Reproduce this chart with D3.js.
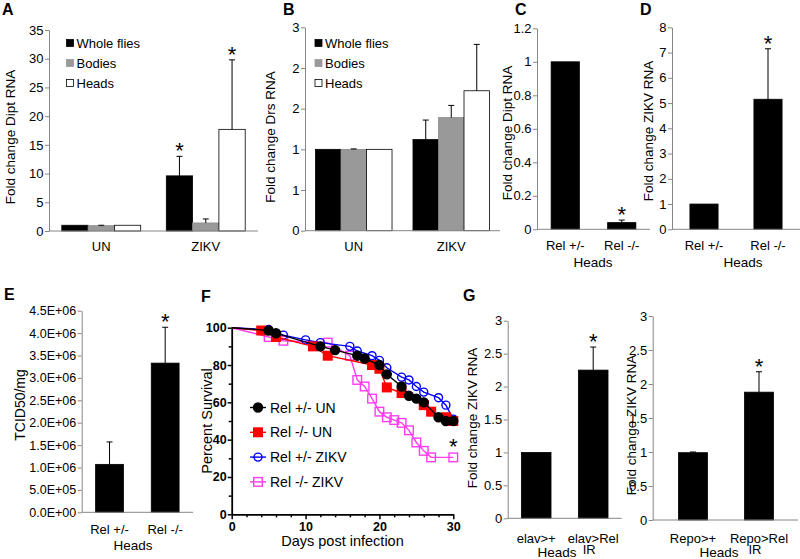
<!DOCTYPE html>
<html>
<head>
<meta charset="utf-8">
<script src="https://cdn.jsdelivr.net/npm/d3@7"></script>
<style>
  body { margin: 0; background: #fff; }
  svg text { font-family: "Liberation Sans", Arial, sans-serif; fill: #000; }
</style>
</head>
<body>
<svg id="fig" width="800" height="559" viewBox="0 0 800 559"></svg>
<script>
/* ---------- data ---------- */

// A / B : whole flies, bodies, heads
const tissueSeries = ["Whole flies", "Bodies", "Heads"];
const infectGroups = ["UN", "ZIKV"];
const diptFold = [[1.0, 0.92, 1.0], [9.6, 1.4, 17.7]];
const diptErr  = [[0, 0.08, 0], [3.4, 0.7, 12.1]];
const diptStar = [[0, 0, 0], [1, 0, 1]];
const drsFold  = [[1.0, 1.0, 1.0], [1.12, 1.39, 1.72]];
const drsErr   = [[0, 0.005, 0], [0.24, 0.15, 0.57]];
const drsStar  = [[0, 0, 0], [0, 0, 0]];

// C / D / E : Rel heads
const relCats = ["Rel +/-", "Rel -/-"];
const diptRel = [1.0, 0.04];
const diptRelErr = [0, 0.015];
const zikvRel = [1.0, 5.15];
const zikvRelErr = [0, 2.0];
const tcidRel = [1.07e6, 3.33e6];
const tcidRelErr = [0.5e6, 0.8e6];
const relStar = [0, 1];

// F : survival
const hetUNDays = [0, 5, 6, 12, 14, 17, 18, 20, 21, 23, 24, 25, 26, 28, 29, 30];
const hetUNPct  = [100, 98.5, 97, 90, 88, 85, 83.5, 80, 75, 68.5, 63.5, 62, 60, 52, 50, 50];
const homUNDays = [0, 4, 6, 11, 13, 19, 20, 21, 23, 26, 27, 29, 30];
const homUNPct  = [100, 98.5, 95, 90, 85, 80, 78, 68, 65, 58.5, 55, 52, 50];
const hetZKDays = [0, 5, 7, 10, 12, 16, 17, 19, 20, 21, 23, 24, 25, 26, 28, 29, 30];
const hetZKPct  = [100, 99, 96, 93.5, 92, 90, 87.5, 85, 82.5, 78.5, 73.5, 72, 68.5, 65.5, 62.5, 58.5, 51];
const homZKDays = [0, 5, 7, 13, 16, 17, 18, 19, 20, 21, 22, 23, 24, 25, 26, 27, 30];
const homZKPct  = [100, 95, 93, 92, 85, 72, 68.5, 62, 55, 52, 50.5, 49, 45, 38.5, 34, 30.5, 30.5];

// G : RNAi in neurons / glia
const elavCats = ["elav>+", "elav>Rel\nIR"];
const elavFold = [1.0, 2.25];
const elavErr  = [0, 0.35];
const repoCats = ["Repo>+", "Repo>Rel\nIR"];
const repoFold = [0.99, 1.88];
const repoErr  = [0.01, 0.3];
const gStar = [0, 1];

/* ---------- helpers ---------- */

const svg = d3.select("#fig");
const axisGrey = "#868686";

function fmtE(v) {
    if (v === 0) return "0.0E+00";
    let e = Math.floor(Math.log10(v) + 1e-9);
    return (v / Math.pow(10, e)).toFixed(1) + "E+" + String(e).padStart(2, "0");
}

function letter(t, x, y) {
    svg.append("text").attr("x", x).attr("y", y)
        .attr("font-size", 16).attr("font-weight", "bold").text(t);
}

function yTitle(t, x, y, fs) {
    svg.append("text")
        .attr("transform", `translate(${x},${y}) rotate(-90)`)
        .attr("text-anchor", "middle").attr("dy", "0.35em")
        .attr("font-size", fs || 13.5).text(t);
}

// excel style bar chart
function barPanel(p) {
    let g = svg.append("g");
    let vals = p.values.map(d => Array.isArray(d) ? d : [d]);
    let errs = p.errs.map(d => Array.isArray(d) ? d : [d]);
    let stars = p.stars.map(d => Array.isArray(d) ? d : [d]);
    let nSer = vals[0].length;
    let fills = p.fills || ["#000"];

    let y = d3.scaleLinear().domain([0, p.ymax]).range([p.y1, p.y0]);
    let x = d3.scaleBand().domain(p.cats).range(p.band || p.ax);
    let bw = x.bandwidth();
    let sub = d3.scaleBand().domain(d3.range(nSer))
        .range([bw * (1 - p.frac) / 2, bw * (1 + p.frac) / 2]);

    // bars
    p.cats.forEach((c, i) => {
        vals[i].forEach((v, j) => {
            g.append("rect")
                .attr("x", x(c) + sub(j)).attr("width", sub.bandwidth())
                .attr("y", y(v)).attr("height", y(0) - y(v))
                .attr("fill", fills[j])
                .attr("stroke", fills[j] === "#999" ? "#8a8a8a" : "#000")
                .attr("stroke-width", 0.8);
            let cx = x(c) + sub(j) + sub.bandwidth() / 2;
            let top = y(v + errs[i][j]);
            if (errs[i][j] > 0) {
                g.append("line").attr("x1", cx).attr("x2", cx)
                    .attr("y1", y(v)).attr("y2", top).attr("stroke", "#000");
                g.append("line").attr("x1", cx - 3).attr("x2", cx + 3)
                    .attr("y1", top).attr("y2", top).attr("stroke", "#000");
            }
            if (stars[i][j]) {
                g.append("text").attr("x", cx).attr("y", top + 2)
                    .attr("text-anchor", "middle").attr("font-size", 22).text("*");
            }
        });
    });

    // y axis
    let ya = g.append("g").attr("transform", `translate(${p.ax[0]},0)`)
        .call(d3.axisLeft(y)
            .tickValues(d3.range(0, p.ymax + p.step / 2, p.step))
            .tickSize(4).tickSizeOuter(0).tickPadding(1.5)
            .tickFormat(p.fmt))
        .attr("font-size", p.fs || 13);
    ya.select(".domain").attr("stroke", axisGrey);
    ya.selectAll(".tick line").attr("stroke", axisGrey);
    ya.selectAll(".tick text").attr("fill", "#000");

    // x axis line
    g.append("line").attr("x1", p.ax[0]).attr("x2", p.ax[1])
        .attr("y1", y(0)).attr("y2", y(0)).attr("stroke", axisGrey);

    // category labels
    p.cats.forEach(c => {
        let t = g.append("text").attr("x", x(c) + bw / 2).attr("y", p.labY)
            .attr("text-anchor", "middle").attr("font-size", 13);
        c.split("\n").forEach((s, k) => {
            t.append("tspan").attr("x", x(c) + bw / 2 - (k ? 4 : 0)).attr("dy", k ? 11 : 0).text(s);
        });
    });

    if (p.xTitle) {
        g.append("text").attr("x", p.xTitle[0]).attr("y", p.xTitle[1])
            .attr("text-anchor", "middle").attr("font-size", 13.5).text("Heads");
    }
    return g;
}

function legendAB(x0) {
    tissueSeries.forEach((s, i) => {
        let yy = 43 + i * 20;
        svg.append("rect").attr("x", x0).attr("y", yy - 3.5).attr("width", 7).attr("height", 7)
            .attr("fill", ["#000", "#999", "#fff"][i])
            .attr("stroke", i === 1 ? "#999" : "#000").attr("stroke-width", 0.8);
        svg.append("text").attr("x", x0 + 10).attr("y", yy + 4.5)
            .attr("font-size", 13).text(s);
    });
}

/* ---------- A ---------- */
letter("A", 2, 15);
barPanel({ cats: infectGroups, values: diptFold, errs: diptErr, stars: diptStar,
    fills: ["#000", "#999", "#fff"], ax: [49, 258], y0: 30, y1: 231, ymax: 35, step: 5,
    fmt: d3.format("d"), frac: 0.755, labY: 251 });
legendAB(66.5);
yTitle("Fold change Dipt RNA", 10, 137);

/* ---------- B ---------- */
letter("B", 283, 15);
barPanel({ cats: infectGroups, values: drsFold, errs: drsErr, stars: drsStar,
    fills: ["#000", "#999", "#fff"], ax: [305, 500], y0: 27.3, y1: 230.7, ymax: 2.5, step: 0.5,
    fmt: v => String(Math.round(v)), frac: 0.785, labY: 251 });
legendAB(315);
yTitle("Fold change Drs RNA", 270, 137);

/* ---------- C ---------- */
letter("C", 515, 15);
barPanel({ cats: relCats, values: diptRel, errs: diptRelErr, stars: relStar,
    ax: [537, 650], y0: 28.3, y1: 229.3, ymax: 1.2, step: 0.2,
    fmt: v => String(+v.toFixed(1)), frac: 0.5, labY: 250, xTitle: [593, 267] });
yTitle("Fold change Dipt RNA", 507.5, 133);

/* ---------- D ---------- */
letter("D", 640, 15);
barPanel({ cats: relCats, values: zikvRel, errs: zikvRelErr, stars: relStar,
    ax: [672, 800], y0: 27.3, y1: 229.3, ymax: 8, step: 1,
    fmt: d3.format("d"), frac: 0.44, labY: 250, xTitle: [743, 267] });
yTitle("Fold change ZIKV RNA", 648, 131);

/* ---------- E ---------- */
letter("E", 4, 300);
barPanel({ cats: relCats, values: tcidRel, errs: tcidRelErr, stars: relStar,
    ax: [81.7, 193], y0: 310.7, y1: 512.3, ymax: 4.5e6, step: 5e5,
    fmt: fmtE, fs: 12.5, frac: 0.5, labY: 534, xTitle: [133, 550] });
yTitle("TCID50/mg", 20, 405, 14);

/* ---------- F ---------- */
letter("F", 201, 301.5);
{
    let g = svg.append("g");
    let xs = d3.scaleLinear().domain([0, 30]).range([231.7, 453.3]);
    let ys = d3.scaleLinear().domain([0, 100]).range([514.3, 327.7]);

    g.append("g").attr("transform", `translate(0,${ys(0)})`)
        .call(d3.axisBottom(xs).tickValues([0, 10, 20, 30]).tickSize(5).tickSizeOuter(0).tickPadding(3))
        .attr("font-size", 12.5).attr("font-weight", "bold");
    g.append("g").attr("transform", `translate(0,${ys(0)})`)
        .call(d3.axisBottom(xs).tickValues(d3.range(2, 30, 2).filter(d => d % 10)).tickSize(3).tickFormat(""))
        .select(".domain").remove();
    g.append("g").attr("transform", `translate(${xs(0)},0)`)
        .call(d3.axisLeft(ys).tickValues([0, 20, 40, 60, 80, 100]).tickSize(4).tickSizeOuter(0).tickPadding(1))
        .attr("font-size", 12.5).attr("font-weight", "bold");
    g.append("g").attr("transform", `translate(${xs(0)},0)`)
        .call(d3.axisLeft(ys).tickValues([10, 30, 50, 70, 90]).tickSize(3).tickFormat(""))
        .select(".domain").remove();
    g.selectAll(".domain").attr("stroke-width", 1.8);
    g.selectAll(".tick line").attr("stroke-width", 1.5);

    g.append("text").attr("x", 342.5).attr("y", 546).attr("text-anchor", "middle")
        .attr("font-size", 14.5).text("Days post infection");
    yTitle("Percent Survival", 207, 421, 14.5);

    let survSeries = [
        { name: "Rel +/- UN", days: hetUNDays, pct: hetUNPct, color: "#000", shape: "circle", filled: true },
        { name: "Rel -/- UN", days: homUNDays, pct: homUNPct, color: "#ff0000", shape: "square", filled: true },
        { name: "Rel +/- ZIKV", days: hetZKDays, pct: hetZKPct, color: "#0000ff", shape: "circle", filled: false },
        { name: "Rel -/- ZIKV", days: homZKDays, pct: homZKPct, color: "#ff3cf0", shape: "square", filled: false }
    ];
    let line = d3.line().x(d => xs(d[0])).y(d => ys(d[1]));

    function marker(sel, s, cx, cy) {
        let m = s.shape === "circle"
            ? sel.append("circle").attr("cx", cx).attr("cy", cy).attr("r", s.filled ? 4.5 : 4)
            : sel.append("rect").attr("x", cx - 4.3).attr("y", cy - 4.3).attr("width", 8.6).attr("height", 8.6);
        m.attr("fill", s.filled ? s.color : "none").attr("stroke", s.color).attr("stroke-width", 1.4);
    }

    // draw back to front: magenta, blue, red, black
    survSeries.slice().reverse().forEach(s => {
        let pts = s.days.map((d, i) => [d, s.pct[i]]);
        g.append("path").attr("d", line(pts)).attr("fill", "none")
            .attr("stroke", s.color).attr("stroke-width", 1.4);
        let mg = g.append("g");
        pts.filter(d => d[0] > 0).forEach(d => marker(mg, s, xs(d[0]), ys(d[1])));
    });

    g.append("text").attr("x", xs(30)).attr("y", ys(30.5) - 3)
        .attr("text-anchor", "middle").attr("font-size", 22).text("*");

    // legend
    survSeries.forEach((s, i) => {
        let yy = 407.5 + i * 24.8;
        g.append("line").attr("x1", 250).attr("x2", 266).attr("y1", yy).attr("y2", yy)
            .attr("stroke", s.color).attr("stroke-width", 1.4);
        marker(g, s, 258, yy);
        g.append("text").attr("x", 270).attr("y", yy + 5).attr("font-size", 14).text(s.name);
    });
}

/* ---------- G ---------- */
letter("G", 463, 301);
barPanel({ cats: elavCats, values: elavFold, errs: elavErr, stars: gStar,
    ax: [507.7, 621.7], y0: 320.7, y1: 518.3, ymax: 3, step: 0.5,
    fmt: v => String(v), frac: 0.52, labY: 543, xTitle: [557, 557] });
yTitle("Fold change ZIKV RNA", 472.5, 418);

barPanel({ cats: repoCats, values: repoFold, errs: repoErr, stars: gStar,
    ax: [652.7, 798], band: [660, 792], y0: 316, y1: 520, ymax: 3, step: 0.5,
    fmt: v => String(v), frac: 0.44, labY: 543, xTitle: [719, 557] });
yTitle("Fold change ZIKV RNA", 631, 425);
</script>
</body>
</html>
